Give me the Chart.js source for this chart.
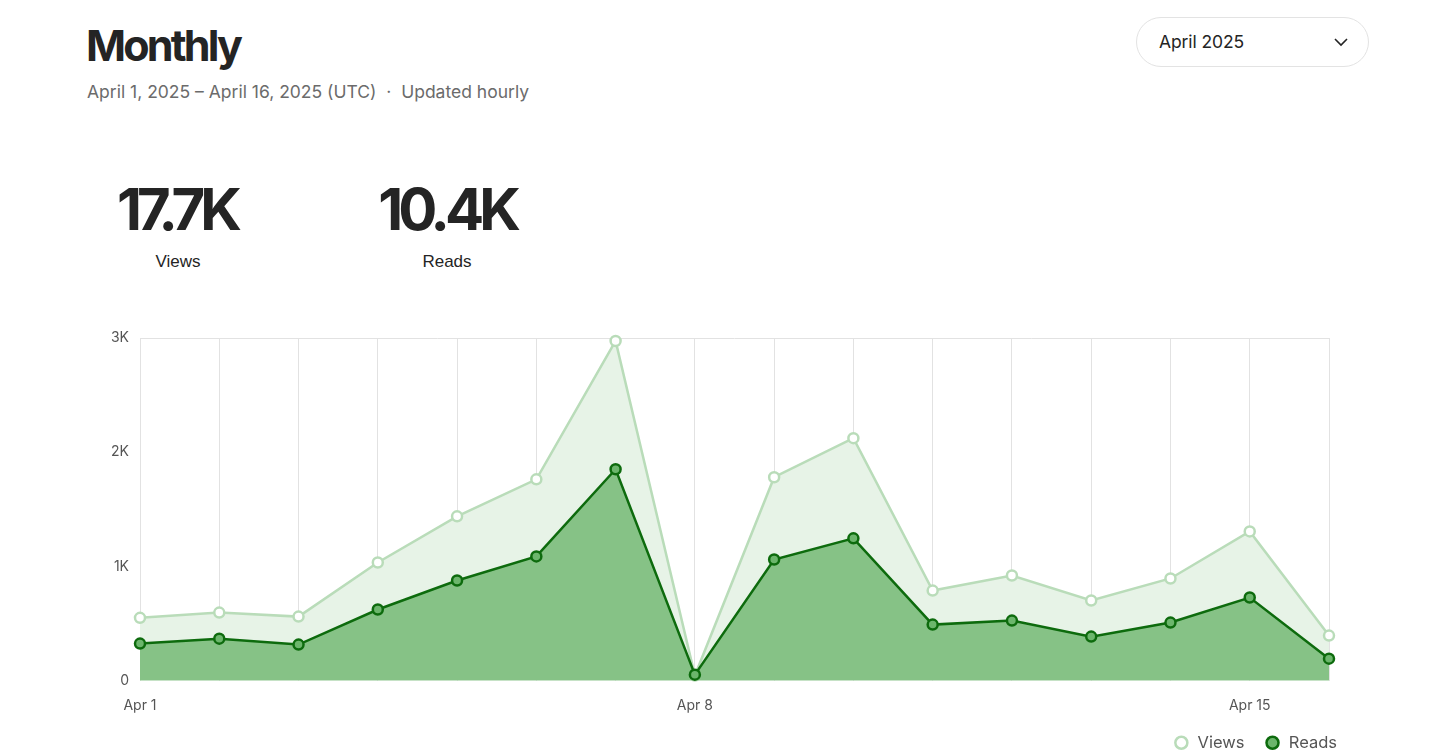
<!DOCTYPE html>
<html>
<head>
<meta charset="utf-8">
<script src="https://cdn.jsdelivr.net/npm/chart.js@4.4.1/dist/chart.umd.min.js"></script>
<style>
  html, body { margin: 0; padding: 0; background: #fff; }
  body { width: 1456px; height: 751px; position: relative; overflow: hidden; font-family: Inter, "Liberation Sans", sans-serif; }
  #title { position: absolute; left: 86px; top: 17px; font-size: 43px; font-weight: 700; color: #242424; letter-spacing: -2.8px; line-height: 56px; }
  #sub { position: absolute; left: 87px; top: 81px; font-size: 17.5px; color: #6b6b6b; line-height: 22px; letter-spacing: 0px; }
  #dd { position: absolute; left: 1136px; top: 17px; width: 233px; height: 50px; border: 1px solid #e3e3e3; border-radius: 26px; box-sizing: border-box; }
  #dd span { position: absolute; left: 22px; top: 13px; font-size: 17.5px; color: #242424; letter-spacing: -0.1px; }
  #dd svg { position: absolute; right: 20px; top: 20px; }
  .big { position: absolute; top: 176px; width: 240px; text-align: center; font-family: Inter, "Liberation Sans", sans-serif; font-weight: 700; font-size: 58px; letter-spacing: -5px; color: #242424; line-height: 66px; }
  .lbl { position: absolute; top: 252px; width: 240px; text-align: center; font-family: "Liberation Sans", Arial, sans-serif; font-size: 17px; color: #242424; }
  #wrap { position: absolute; left: 0; top: 318px; width: 1456px; height: 443px; }
</style>
</head>
<body>
<div id="title">Monthly</div>
<div id="sub">April 1, 2025 – April 16, 2025 (UTC) &nbsp;·&nbsp; Updated hourly</div>
<div id="dd"><span>April 2025</span><svg width="14" height="9" viewBox="0 0 14 9"><path d="M1 1 L7 7 L13 1" fill="none" stroke="#242424" stroke-width="1.6"/></svg></div>
<div class="big" style="left:57px">17.7K</div>
<div class="lbl" style="left:58px">Views</div>
<div class="big" style="left:327px">10.4K</div>
<div class="lbl" style="left:327px">Reads</div>
<div id="wrap"><canvas id="c"></canvas></div>
<script>
const categories = ["Apr 1","Apr 2","Apr 3","Apr 4","Apr 5","Apr 6","Apr 7","Apr 8","Apr 9","Apr 10","Apr 11","Apr 12","Apr 13","Apr 14","Apr 15","Apr 16"];
const shownXLabels = ["Apr 1","Apr 8","Apr 15"];
const viewsValues = [550, 596, 561, 1035, 1439, 1763, 2974, 45, 1781, 2123, 789, 921, 702, 895, 1307, 395];
const readsValues = [325, 368, 316, 623, 877, 1088, 1851, 53, 1061, 1246, 491, 526, 386, 509, 728, 193];
const yTickLabels = {0: "0", 1000: "1K", 2000: "2K", 3000: "3K"};

const ctx = document.getElementById('c');
new Chart(ctx, {
  type: 'line',
  data: {
    labels: categories,
    datasets: [
      {
        label: 'Views',
        data: viewsValues,
        order: 2,
        clip: false,
        borderColor: '#b9dcb9',
        backgroundColor: '#e7f3e7',
        fill: 'origin',
        borderWidth: 2.5,
        tension: 0,
        pointRadius: 5,
        pointBorderWidth: 2.5,
        pointBackgroundColor: '#ffffff',
        pointBorderColor: '#b9dcb9'
      },
      {
        label: 'Reads',
        data: readsValues,
        order: 1,
        clip: false,
        borderColor: '#0d6b0d',
        backgroundColor: '#86c286',
        fill: 'origin',
        borderWidth: 2.5,
        tension: 0,
        pointRadius: 5,
        pointBorderWidth: 2.5,
        pointBackgroundColor: '#6cb66c',
        pointBorderColor: '#0d6b0d'
      }
    ]
  },
  options: {
    responsive: true,
    maintainAspectRatio: false,
    animation: false,
    layout: { padding: { left: 100, right: 99, top: 20, bottom: 0 } },
    plugins: {
      tooltip: { enabled: false },
      legend: {
        position: 'bottom',
        align: 'end',
        labels: {
          usePointStyle: true,
          pointStyle: 'circle',
          boxWidth: 16,
          boxHeight: 8.5,
          padding: 20,
          color: '#555555',
          font: { family: 'Inter, "Liberation Sans", sans-serif', size: 16.5 },
          sort: (a, b) => a.datasetIndex - b.datasetIndex
        }
      }
    },
    scales: {
      x: {
        offset: false,
        afterFit: (s) => { s.height = s.height - 17; },
        grid: { color: '#e2e2e2', lineWidth: 1, drawTicks: false },
        border: { display: false },
        ticks: {
          autoSkip: false,
          maxRotation: 0,
          padding: 17,
          color: '#555555',
          font: { family: 'Inter, "Liberation Sans", sans-serif', size: 14 },
          callback: function(v) { const l = categories[v]; return shownXLabels.includes(l) ? l : ''; }
        }
      },
      y: {
        min: 0,
        max: 3000,
        afterFit: (s) => { s.width = 40; },
        grid: {
          drawTicks: false,
          color: (c) => c.tick && c.tick.value === 3000 ? '#e2e2e2' : 'rgba(0,0,0,0)'
        },
        border: { display: false },
        ticks: {
          stepSize: 1000,
          padding: 11,
          color: '#555555',
          font: { family: 'Inter, "Liberation Sans", sans-serif', size: 14 },
          callback: (v) => yTickLabels[v]
        }
      },
      yRightSpace: {
        position: 'right',
        min: 0,
        max: 3000,
        afterFit: (s) => { s.width = 28; },
        grid: { display: false },
        border: { display: false },
        ticks: { display: false }
      }
    }
  }
});
</script>
</body>
</html>
